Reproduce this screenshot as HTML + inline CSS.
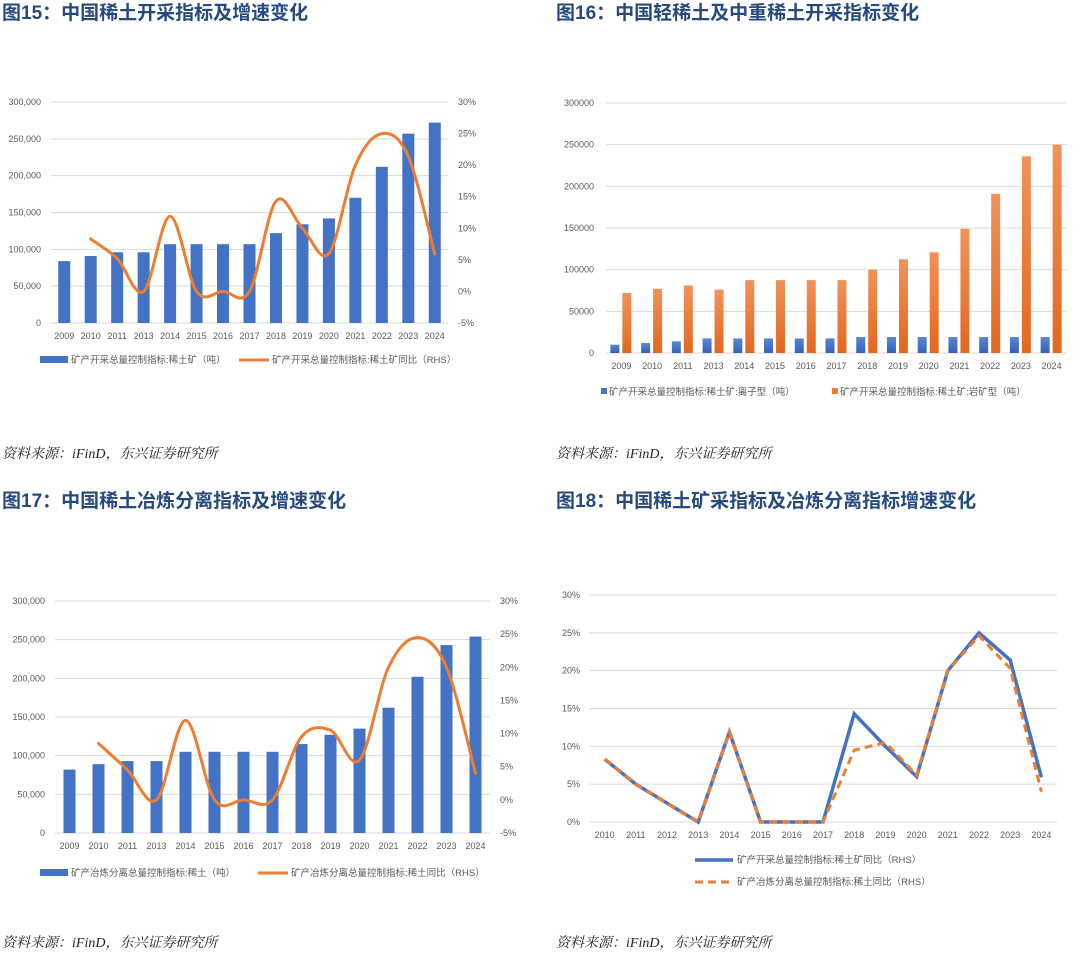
<!DOCTYPE html>
<html><head><meta charset="utf-8"><style>
html,body{margin:0;padding:0;background:#fff;}
svg{display:block;font-family:"Liberation Sans","Noto Sans CJK SC",sans-serif;}
.t{font-weight:bold;font-size:19px;fill:#264a7e;}
.src{font-style:italic;font-size:14px;fill:#222;font-family:"Liberation Serif","Noto Serif CJK SC",serif;}
.ax{font-size:9px;fill:#595959;}
.lg{font-size:9.5px;fill:#595959;}
</style></head><body>
<svg id="s" width="1080" height="958" viewBox="0 0 1080 958" xmlns="http://www.w3.org/2000/svg">
<defs><linearGradient id="og" x1="0" y1="0" x2="0" y2="1"><stop offset="0" stop-color="#f0925a"/><stop offset="1" stop-color="#e2681f"/></linearGradient>
<linearGradient id="bg" x1="0" y1="0" x2="0" y2="1"><stop offset="0" stop-color="#5b86d4"/><stop offset="1" stop-color="#3560b8"/></linearGradient></defs>
<text class="t" x="2" y="19">图15：中国稀土开采指标及增速变化</text>
<text class="t" x="556" y="19">图16：中国轻稀土及中重稀土开采指标变化</text>
<text class="t" x="2" y="507">图17：中国稀土冶炼分离指标及增速变化</text>
<text class="t" x="556" y="507">图18：中国稀土矿采指标及冶炼分离指标增速变化</text>
<text class="src" x="2" y="458">资料来源：iFinD，东兴证券研究所</text>
<text class="src" x="556" y="458">资料来源：iFinD，东兴证券研究所</text>
<text class="src" x="2" y="947">资料来源：iFinD，东兴证券研究所</text>
<text class="src" x="556" y="947">资料来源：iFinD，东兴证券研究所</text>
</svg>
<script>
const years1 = ["2009","2010","2011","2013","2014","2015","2016","2017","2018","2019","2020","2021","2022","2023","2024"];
const mining = [84000,91000,96000,96000,107000,107000,107000,107000,122000,134000,142000,170000,212000,257000,272000];
const miningYoY = [null,8.3,5.2,0,11.9,0,0,0,14.3,10,6,20,25,21.4,5.9];
const ionic = [10000,12000,14000,17500,17500,17500,17500,17500,19150,19150,19150,19150,19150,19150,19150];
const rock = [72000,77000,81000,76000,87500,87500,87500,87500,100000,112500,120850,149000,191000,236000,250000];
const smelt = [82000,89000,93000,93000,105000,105000,105000,105000,115000,127000,135000,162000,202000,243000,254000];
const smeltYoY = [null,8.5,4.5,0,12,0,0,0,9.5,10.5,6,20,24.5,20,4];
const years4 = ["2010","2011","2012","2013","2014","2015","2016","2017","2018","2019","2020","2021","2022","2023","2024"];
const yoyMine4 = [8.3,5,2.5,0,11.9,0,0,0,14.3,10,6,20,25,21.4,5.9];
const yoySmelt4 = [8.3,5,2.5,0,11.9,0,0,0,9.5,10.5,6.2,20,24.6,20.3,4];
const leftTicksComma = ["0","50,000","100,000","150,000","200,000","250,000","300,000"];
const leftTicksPlain = ["0","50000","100000","150000","200000","250000","300000"];
const pctTicks = [-5,0,5,10,15,20,25,30];
const pctTicks4 = [0,5,10,15,20,25,30];

const S=document.getElementById('s');const NS='http://www.w3.org/2000/svg';
function mk(tag,attrs,txt){const e=document.createElementNS(NS,tag);for(const k in attrs)e.setAttribute(k,attrs[k]);if(txt!=null)e.textContent=txt;S.appendChild(e);return e;}
function smooth(pts){let d='M'+pts[0][0]+','+pts[0][1];for(let i=0;i<pts.length-1;i++){const p0=pts[i-1]||pts[i],p1=pts[i],p2=pts[i+1],p3=pts[i+2]||p2;const c1x=p1[0]+(p2[0]-p0[0])/6,c1y=p1[1]+(p2[1]-p0[1])/6,c2x=p2[0]-(p3[0]-p1[0])/6,c2y=p2[1]-(p3[1]-p1[1])/6;d+=' C'+c1x+','+c1y+' '+c2x+','+c2y+' '+p2[0]+','+p2[1];}return d;}

function barLine(o){
  const n=o.cats.length,cw=(o.x1-o.x0)/n;
  const y=v=>o.yb-(v/300000)*(o.yb-o.yt);
  const yr=p=>o.yb-((p+5)/35)*(o.yb-o.yt);
  o.lt.forEach((t,i)=>{const v=i*50000;
    let g=mk('line',{x1:o.x0,x2:o.x1,y1:y(v),y2:y(v),stroke:'#d9d9d9','stroke-width':1});
    
    let l=mk('text',{x:o.x0-10,y:y(v)+3,'text-anchor':'end',class:'ax'},t);
    });
  pctTicks.forEach(p=>{let l=mk('text',{x:o.x1+10,y:yr(p)+3,class:'ax'},p+'%');
    });
  o.cats.forEach((c,i)=>{const cx=o.x0+cw*(i+0.5);
    let b=mk('rect',{x:cx-6,y:y(o.bars[i]),width:12,height:o.yb-y(o.bars[i]),fill:'#4472c4'});
    
    let l=mk('text',{x:cx,y:o.yb+16,'text-anchor':'middle',class:'ax'},c);
    });
  const pts=[];o.line.forEach((v,i)=>{if(v!=null)pts.push([o.x0+cw*(i+0.5),yr(v)]);});
  let p=mk('path',{d:smooth(pts),fill:'none',stroke:'#ed7d31','stroke-width':3,'stroke-linecap':'round'});
  
  let lb=mk('rect',{x:o.lgx,y:o.lgy-4,width:28,height:7,fill:'#4472c4'});
  
  let lt=mk('text',{x:o.lgx+31,y:o.lgy+3,class:'lg'},o.l1);
  
  let ll=mk('line',{x1:o.lgx2,x2:o.lgx2+30,y1:o.lgy,y2:o.lgy,stroke:'#ed7d31','stroke-width':3});
  
  let lt2=mk('text',{x:o.lgx2+33,y:o.lgy+3,class:'lg'},o.l2);
  
}
barLine({cats:years1,bars:mining,line:miningYoY,x0:51,x1:448,yt:102,yb:323,lt:leftTicksComma,lgx:40,lgx2:239,lgy:360,l1:'矿产开采总量控制指标:稀土矿（吨）',l2:'矿产开采总量控制指标:稀土矿同比（RHS）'});
barLine({cats:years1,bars:smelt,line:smeltYoY,x0:55,x1:490,yt:601,yb:833,lt:leftTicksComma,lgx:40,lgx2:258,lgy:873,l1:'矿产冶炼分离总量控制指标:稀土（吨）',l2:'矿产冶炼分离总量控制指标:稀土同比（RHS）'});

// Chart 16
(function(){const x0=606,x1=1067,yt=103,yb=353,n=years1.length,cw=(x1-x0)/n;const y=v=>yb-(v/300000)*(yb-yt);
  leftTicksPlain.forEach((t,i)=>{const v=i*50000;
    let g=mk('line',{x1:x0,x2:x1,y1:y(v),y2:y(v),stroke:'#d9d9d9','stroke-width':1});
    
    let l=mk('text',{x:594,y:y(v)+3,'text-anchor':'end',class:'ax'},t);
    });
  years1.forEach((c,i)=>{const cx=x0+cw*(i+0.5);
    let b=mk('rect',{x:cx-11,y:y(ionic[i]),width:9,height:yb-y(ionic[i]),fill:'url(#bg)'});
    
    let r=mk('rect',{x:cx+1,y:y(rock[i]),width:9,height:yb-y(rock[i]),fill:'url(#og)'});
    
    let l=mk('text',{x:cx,y:yb+16,'text-anchor':'middle',class:'ax'},c);
    });
  let s1=mk('rect',{x:601,y:388,width:6,height:6,fill:'#4472c4'});
  let t1=mk('text',{x:609,y:395,class:'lg'},'矿产开采总量控制指标:稀土矿:离子型（吨）');
  let s2=mk('rect',{x:832,y:388,width:6,height:6,fill:'#ed7d31'});
  let t2=mk('text',{x:840,y:395,class:'lg'},'矿产开采总量控制指标:稀土矿:岩矿型（吨）');
})();

// Chart 18
(function(){const x0=589,x1=1057,yt=595,yb=822,n=years4.length,cw=(x1-x0)/n;const y=p=>yb-(p/30)*(yb-yt);
  pctTicks4.forEach(p=>{let g=mk('line',{x1:x0,x2:x1,y1:y(p),y2:y(p),stroke:'#d9d9d9','stroke-width':1});
    
    let l=mk('text',{x:580,y:y(p)+3,'text-anchor':'end',class:'ax'},p+'%');
    });
  years4.forEach((c,i)=>{const cx=x0+cw*(i+0.5);
    let l=mk('text',{x:cx,y:yb+16,'text-anchor':'middle',class:'ax'},c);
    });
  const pa=yoyMine4.map((v,i)=>(i?'L':'M')+(x0+cw*(i+0.5))+','+y(v)).join(' ');
  const pb=yoySmelt4.map((v,i)=>(i?'L':'M')+(x0+cw*(i+0.5))+','+y(v)).join(' ');
  let a=mk('path',{d:pa,fill:'none',stroke:'#4472c4','stroke-width':3.5});
  let b=mk('path',{d:pb,fill:'none',stroke:'#ed7d31','stroke-width':3,'stroke-dasharray':'8,5'});
  let s1=mk('line',{x1:695,x2:733,y1:860,y2:860,stroke:'#4472c4','stroke-width':3.5});
  let t1=mk('text',{x:737,y:863,class:'lg'},'矿产开采总量控制指标:稀土矿同比（RHS）');
  let s2=mk('line',{x1:695,x2:733,y1:882,y2:882,stroke:'#ed7d31','stroke-width':3,'stroke-dasharray':'8,5'});
  let t2=mk('text',{x:737,y:885,class:'lg'},'矿产冶炼分离总量控制指标:稀土同比（RHS）');
})();
</script>
</body></html>
